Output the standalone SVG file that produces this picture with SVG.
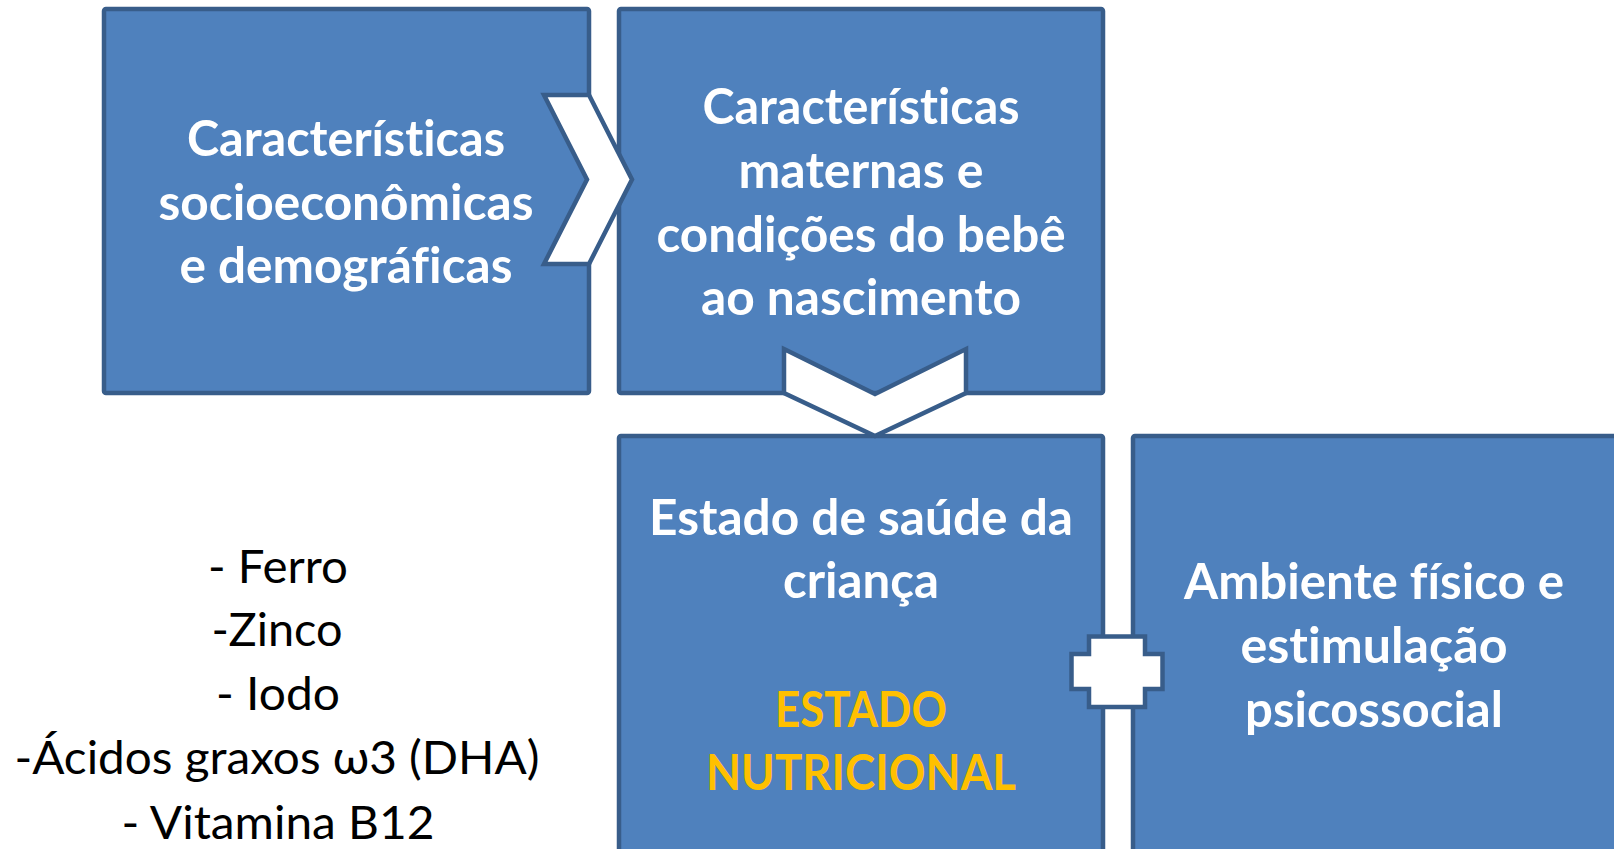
<svg xmlns="http://www.w3.org/2000/svg" width="1614" height="849" viewBox="0 0 1614 849">
<style>
.box{fill:#4F81BD;stroke:#385D8A;stroke-width:4.5;stroke-linejoin:round}
.conn{fill:#FFFFFF;stroke:#385D8A;stroke-width:4.5;stroke-linejoin:miter}
.t{font-family:Lato,"Open Sans","Liberation Sans",sans-serif;font-weight:bold;font-size:49px;fill:#FFFFFF;text-anchor:middle;font-variant-ligatures:none;font-feature-settings:"liga" 0,"dlig" 0}
.g{fill:#FFC000}
.l{font-family:Lato,"Open Sans","Liberation Sans",sans-serif;font-size:47px;fill:#000000;text-anchor:middle;font-variant-ligatures:none;font-feature-settings:"liga" 0}
</style>
<rect width="1614" height="849" fill="#FFFFFF"/>
<g id="node-socio">
<rect class="box" x="104" y="9" width="485" height="384" rx="2"/>
<text class="t" x="346" y="156" textLength="318" lengthAdjust="spacingAndGlyphs">Características</text>
<text class="t" x="346" y="220" textLength="375" lengthAdjust="spacingAndGlyphs">socioeconômicas</text>
<text class="t" x="346" y="283" textLength="333" lengthAdjust="spacingAndGlyphs">e demográficas</text>
</g>
<g id="node-maternas">
<rect class="box" x="619" y="9" width="484" height="384" rx="2"/>
<text class="t" x="861" y="124" textLength="317" lengthAdjust="spacingAndGlyphs">Características</text>
<text class="t" x="861" y="188" textLength="245" lengthAdjust="spacingAndGlyphs">maternas e</text>
<text class="t" x="861" y="252" textLength="409" lengthAdjust="spacingAndGlyphs">condições do bebê</text>
<text class="t" x="861" y="315" textLength="320" lengthAdjust="spacingAndGlyphs">ao nascimento</text>
</g>
<g id="node-saude">
<rect class="box" x="619" y="436" width="484" height="430" rx="2"/>
<text class="t" x="861" y="535" textLength="424" lengthAdjust="spacingAndGlyphs">Estado de saúde da</text>
<text class="t" x="861" y="598" textLength="156" lengthAdjust="spacingAndGlyphs">criança</text>
<text class="t g" x="861" y="727" textLength="172" lengthAdjust="spacingAndGlyphs">ESTADO</text>
<text class="t g" x="861" y="790" textLength="310" lengthAdjust="spacingAndGlyphs">NUTRICIONAL</text>
</g>
<g id="node-ambiente">
<rect class="box" x="1133" y="436" width="484" height="430" rx="2"/>
<text class="t" x="1374" y="599" textLength="380" lengthAdjust="spacingAndGlyphs">Ambiente físico e</text>
<text class="t" x="1374" y="663" textLength="267" lengthAdjust="spacingAndGlyphs">estimulação</text>
<text class="t" x="1374" y="727" textLength="258" lengthAdjust="spacingAndGlyphs">psicossocial</text>
</g>
<g id="node-nutrientes">
<text class="l" x="278" y="583" textLength="140" lengthAdjust="spacingAndGlyphs">- Ferro</text>
<text class="l" x="277" y="646" textLength="131" lengthAdjust="spacingAndGlyphs">-Zinco</text>
<text class="l" x="278" y="710" textLength="124" lengthAdjust="spacingAndGlyphs">- Iodo</text>
<text class="l" x="277" y="774" textLength="525" lengthAdjust="spacingAndGlyphs">-Ácidos graxos ω3 (DHA)</text>
<text class="l" x="278" y="839" textLength="313" lengthAdjust="spacingAndGlyphs">- Vitamina B12</text>
</g>
<g id="connectors">
<path id="chevron-right" class="conn" d="M544,95 L589,95 L632,179.5 L589,264 L544,264 L587,179.5 Z"/>
<path id="chevron-down" class="conn" d="M784,349 L875,394 L966,349 L966,393 L875,436 L784,393 Z"/>
<path id="plus" class="conn" d="M1089,636.5 H1145 V654 H1162.5 V689 H1145 V707 H1089 V689 H1071.5 V654 H1089 Z"/>
</g>
</svg>
